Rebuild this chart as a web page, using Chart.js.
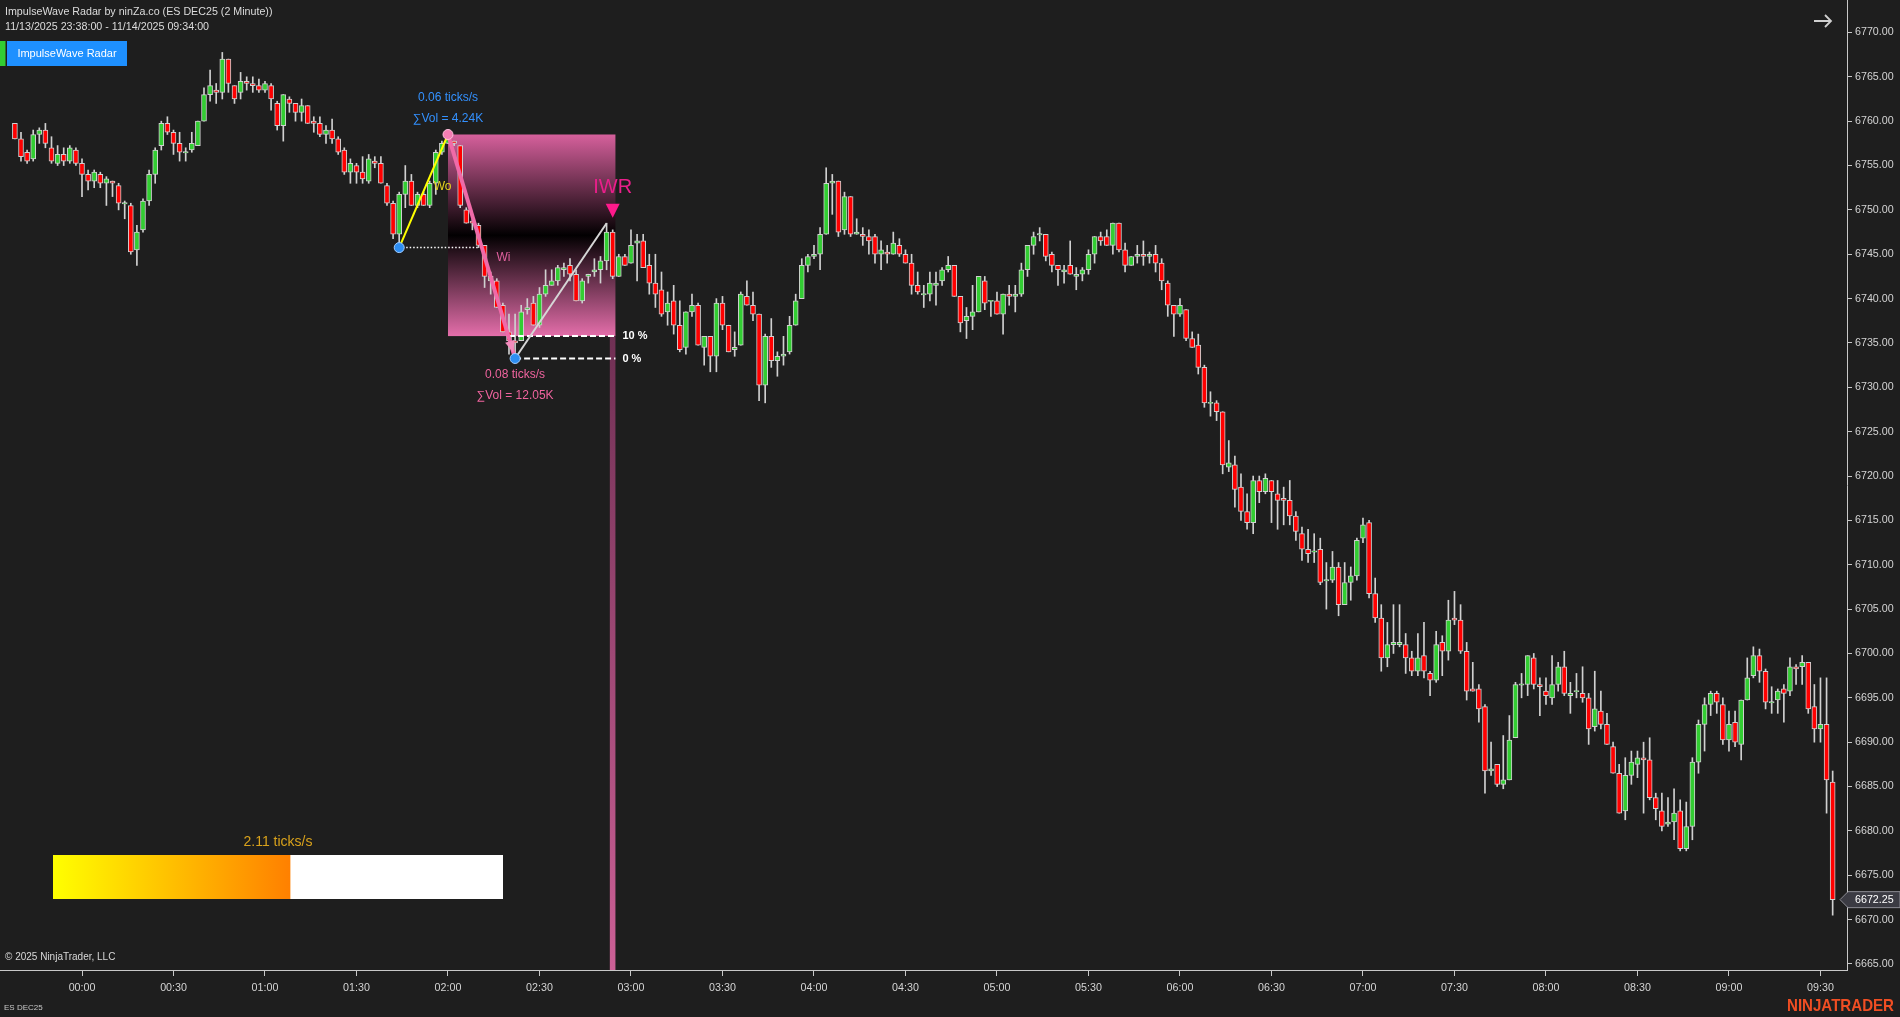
<!DOCTYPE html>
<html>
<head>
<meta charset="utf-8">
<title>ImpulseWave Radar - ES DEC25 (2 Minute)</title>
<script src="https://cdn.jsdelivr.net/npm/chart.js@4.4.1/dist/chart.umd.min.js"></script>
<style>
  html, body { margin: 0; padding: 0; background: #1e1e1e; overflow: hidden; }
  canvas { display: block; }
</style>
</head>
<body>
<canvas id="chart" width="1900" height="1017"></canvas>
<script>
// ES DEC25, 2 minute bars, 11/13 23:38 -> 11/14 09:34 (bar 0 = 23:38)
const opens = [
  6759.75, 6758.0, 6756.5, 6755.75, 6758.5, 6759.0, 6757.0, 6755.25, 6756.25, 6755.5,
  6756.75, 6755.25, 6754.0, 6753.25, 6754.0, 6753.0, 6753.25, 6752.75, 6750.75, 6750.5,
  6745.5, 6747.75, 6751.0, 6754.0, 6757.25, 6759.75, 6758.75, 6757.5, 6756.5, 6756.75,
  6757.25, 6760.0, 6763.0, 6763.5, 6763.25, 6767.0, 6764.0, 6763.25, 6764.5, 6764.25,
  6764.0, 6763.5, 6764.0, 6762.0, 6759.5, 6762.5, 6762.0, 6761.0, 6761.75, 6760.0,
  6759.75, 6758.5, 6759.0, 6758.0, 6756.75, 6754.25, 6755.0, 6754.25, 6753.25, 6755.5,
  6755.25, 6752.75, 6750.75, 6747.25, 6751.75, 6753.25, 6750.5, 6751.75, 6750.5, 6753.0,
  6756.5, 6757.5, 6757.75, 6757.25, 6750.0, 6748.75, 6748.25, 6746.0, 6742.0, 6742.0,
  6739.25, 6736.25, 6735.25, 6735.25, 6738.75, 6739.5, 6737.0, 6740.5, 6741.5, 6742.0,
  6743.25, 6743.75, 6742.75, 6739.75, 6742.5, 6743.0, 6743.25, 6744.25, 6747.5, 6742.5,
  6744.75, 6744.0, 6746.25, 6746.5, 6743.75, 6741.75, 6741.0, 6738.5, 6739.75, 6737.0,
  6734.5, 6738.5, 6739.25, 6734.5, 6735.75, 6733.5, 6739.5, 6737.0, 6734.25, 6734.75,
  6740.25, 6739.25, 6738.25, 6730.25, 6735.75, 6733.0, 6733.5, 6734.0, 6737.0, 6740.0,
  6743.75, 6744.75, 6745.0, 6747.25, 6753.0, 6753.25, 6747.75, 6751.5, 6747.25, 6747.25,
  6747.0, 6747.0, 6745.0, 6745.25, 6745.0, 6746.0, 6745.0, 6744.0, 6741.5, 6740.5,
  6740.5, 6741.5, 6742.0, 6743.25, 6743.75, 6740.25, 6737.5, 6738.0, 6738.5, 6742.0,
  6739.75, 6739.75, 6738.25, 6740.5, 6740.25, 6740.5, 6743.25, 6746.0, 6747.25, 6747.25,
  6745.0, 6743.75, 6743.0, 6743.75, 6742.5, 6742.75, 6743.25, 6745.0, 6747.0, 6747.0,
  6746.0, 6748.5, 6745.5, 6743.75, 6744.75, 6745.0, 6744.75, 6745.0, 6744.0, 6741.75,
  6739.25, 6738.25, 6738.75, 6735.5, 6734.75, 6732.25, 6728.25, 6728.25, 6727.25, 6721.0,
  6721.25, 6718.75, 6716.0, 6714.75, 6719.5, 6718.25, 6719.5, 6718.0, 6717.5, 6717.25,
  6715.5, 6713.5, 6711.75, 6711.5, 6711.75, 6708.25, 6708.25, 6709.75, 6705.5, 6708.0,
  6708.75, 6713.0, 6714.75, 6706.75, 6704.0, 6699.5, 6701.0, 6701.0, 6701.0, 6699.5,
  6698.0, 6699.75, 6697.75, 6697.0, 6701.25, 6700.25, 6704.0, 6703.75, 6700.25, 6696.0,
  6696.0, 6694.0, 6686.75, 6687.5, 6685.25, 6685.75, 6690.5, 6696.5, 6696.5, 6699.5,
  6696.5, 6695.75, 6695.0, 6696.5, 6698.5, 6695.25, 6695.75, 6695.5, 6695.0, 6691.75,
  6693.5, 6692.0, 6689.5, 6686.5, 6682.25, 6686.25, 6687.5, 6688.25, 6688.0, 6683.75,
  6682.25, 6680.75, 6681.0, 6682.25, 6678.0, 6680.5, 6687.75, 6692.0, 6694.25, 6695.5,
  6694.25, 6690.25, 6692.25, 6689.75, 6694.75, 6697.5, 6699.75, 6698.0, 6694.5, 6694.75,
  6696.0, 6695.75, 6698.5, 6698.5, 6699.0, 6694.0, 6691.5, 6692.0, 6685.5
];
const highs = [
  6759.75, 6758.75, 6756.75, 6759.0, 6759.25, 6759.75, 6758.25, 6757.25, 6757.0, 6757.25,
  6757.0, 6755.75, 6754.5, 6754.5, 6754.25, 6753.75, 6753.25, 6753.0, 6751.0, 6750.75,
  6748.25, 6751.25, 6754.5, 6757.0, 6760.0, 6760.5, 6759.0, 6758.75, 6757.0, 6758.75,
  6760.0, 6763.75, 6765.75, 6764.25, 6767.75, 6767.0, 6764.0, 6765.5, 6765.0, 6765.0,
  6764.75, 6764.5, 6764.25, 6762.25, 6763.0, 6762.75, 6762.0, 6762.5, 6761.75, 6760.5,
  6760.5, 6759.5, 6760.25, 6758.25, 6757.0, 6755.75, 6755.25, 6756.0, 6756.25, 6756.0,
  6756.0, 6753.0, 6751.0, 6752.0, 6755.0, 6754.0, 6752.0, 6752.0, 6753.25, 6756.75,
  6757.75, 6758.5, 6757.75, 6757.25, 6750.25, 6749.0, 6748.5, 6746.0, 6743.0, 6742.25,
  6739.5, 6738.25, 6738.25, 6739.25, 6740.0, 6740.25, 6741.25, 6743.25, 6743.25, 6743.75,
  6744.0, 6744.5, 6743.25, 6742.25, 6742.75, 6744.5, 6744.75, 6748.5, 6747.75, 6745.0,
  6745.0, 6747.75, 6747.25, 6747.25, 6745.0, 6745.0, 6743.0, 6740.75, 6741.5, 6739.75,
  6738.5, 6740.5, 6739.5, 6735.75, 6735.75, 6740.0, 6740.25, 6737.0, 6736.25, 6740.75,
  6742.0, 6740.75, 6738.25, 6736.0, 6737.75, 6734.0, 6735.75, 6738.0, 6740.5, 6744.5,
  6745.0, 6746.0, 6748.0, 6754.75, 6754.0, 6753.25, 6752.0, 6751.5, 6749.0, 6748.0,
  6747.75, 6747.25, 6746.5, 6746.0, 6747.5, 6746.75, 6745.5, 6745.0, 6743.0, 6741.5,
  6743.0, 6743.0, 6743.5, 6744.75, 6743.75, 6740.25, 6739.0, 6741.5, 6742.5, 6742.5,
  6739.75, 6740.75, 6740.5, 6741.5, 6741.5, 6744.0, 6746.0, 6747.5, 6748.0, 6747.25,
  6745.25, 6743.75, 6743.75, 6746.5, 6743.5, 6743.5, 6745.5, 6747.0, 6747.5, 6747.75,
  6748.5, 6748.5, 6746.25, 6744.75, 6746.0, 6746.5, 6745.25, 6746.0, 6744.5, 6742.0,
  6739.25, 6740.0, 6738.75, 6736.25, 6736.0, 6732.5, 6729.5, 6728.5, 6727.25, 6724.0,
  6722.25, 6720.25, 6718.0, 6720.0, 6720.0, 6720.25, 6719.5, 6719.5, 6718.75, 6719.5,
  6716.0, 6714.25, 6714.0, 6713.5, 6713.0, 6710.25, 6711.5, 6710.25, 6710.25, 6709.75,
  6713.0, 6715.25, 6715.0, 6708.5, 6705.5, 6703.5, 6705.5, 6705.5, 6702.25, 6700.25,
  6702.25, 6703.5, 6698.0, 6702.5, 6702.0, 6706.0, 6707.0, 6705.5, 6701.25, 6699.0,
  6696.5, 6694.25, 6690.0, 6687.5, 6690.75, 6693.0, 6696.75, 6697.75, 6699.75, 6700.0,
  6697.25, 6697.25, 6699.75, 6699.0, 6700.25, 6696.75, 6697.75, 6698.5, 6695.5, 6698.0,
  6695.75, 6693.25, 6690.0, 6687.5, 6688.25, 6689.0, 6689.0, 6690.0, 6690.5, 6684.25,
  6684.25, 6683.75, 6684.75, 6683.5, 6683.25, 6688.25, 6692.5, 6695.0, 6695.75, 6695.75,
  6695.0, 6693.5, 6693.5, 6694.75, 6699.5, 6700.75, 6700.5, 6698.25, 6696.25, 6696.0,
  6696.5, 6699.5, 6698.75, 6699.75, 6699.0, 6696.5, 6697.25, 6697.25, 6686.75
];
const lows = [
  6758.0, 6755.5, 6755.25, 6755.5, 6757.5, 6757.0, 6755.25, 6755.0, 6755.0, 6755.25,
  6755.0, 6751.5, 6752.25, 6752.5, 6752.5, 6750.5, 6751.5, 6750.0, 6749.0, 6745.0,
  6743.75, 6747.5, 6750.5, 6753.0, 6756.75, 6758.5, 6756.25, 6755.5, 6755.5, 6756.5,
  6757.25, 6760.0, 6762.25, 6762.0, 6762.5, 6763.25, 6762.0, 6762.5, 6763.5, 6763.25,
  6763.25, 6763.25, 6761.25, 6759.0, 6757.75, 6761.0, 6760.0, 6760.0, 6759.75, 6758.75,
  6758.25, 6757.5, 6757.5, 6756.25, 6754.0, 6753.0, 6753.0, 6753.0, 6753.0, 6754.75,
  6753.0, 6750.5, 6746.75, 6745.75, 6750.25, 6750.5, 6750.25, 6750.5, 6750.25, 6751.75,
  6756.25, 6757.5, 6757.25, 6750.25, 6748.5, 6747.75, 6745.75, 6741.25, 6740.5, 6739.0,
  6736.25, 6733.75, 6733.25, 6735.25, 6738.25, 6737.0, 6736.75, 6740.25, 6741.5, 6741.5,
  6742.5, 6742.0, 6739.75, 6739.5, 6741.75, 6742.5, 6741.75, 6743.25, 6742.25, 6742.5,
  6743.75, 6744.0, 6742.0, 6743.5, 6740.5, 6739.0, 6738.0, 6737.0, 6736.0, 6734.0,
  6733.75, 6738.0, 6734.75, 6732.5, 6731.75, 6731.75, 6736.5, 6734.0, 6733.5, 6734.75,
  6739.25, 6737.5, 6728.5, 6728.25, 6732.25, 6731.25, 6732.5, 6733.75, 6737.0, 6740.0,
  6743.0, 6744.5, 6743.25, 6747.25, 6749.5, 6747.0, 6747.25, 6747.0, 6747.25, 6746.0,
  6745.0, 6744.0, 6743.25, 6744.0, 6745.0, 6744.75, 6744.0, 6740.5, 6740.5, 6739.0,
  6739.75, 6739.25, 6741.5, 6743.0, 6740.25, 6736.25, 6735.5, 6736.5, 6738.5, 6738.75,
  6738.0, 6738.25, 6736.0, 6739.25, 6738.5, 6740.25, 6742.5, 6745.0, 6746.5, 6744.25,
  6743.0, 6741.5, 6741.75, 6742.75, 6741.0, 6742.0, 6742.75, 6744.0, 6746.0, 6746.0,
  6745.0, 6745.25, 6743.0, 6743.75, 6744.0, 6743.75, 6744.0, 6743.0, 6741.0, 6738.0,
  6735.75, 6738.0, 6735.25, 6734.5, 6731.5, 6727.75, 6726.75, 6726.25, 6720.25, 6720.5,
  6716.5, 6715.0, 6714.0, 6713.5, 6717.0, 6718.0, 6714.75, 6714.0, 6714.5, 6714.5,
  6712.75, 6710.5, 6710.25, 6710.25, 6707.75, 6705.0, 6708.0, 6704.25, 6705.5, 6706.0,
  6708.25, 6712.5, 6706.25, 6703.5, 6698.0, 6698.5, 6700.0, 6700.75, 6697.75, 6697.5,
  6697.5, 6697.25, 6695.25, 6696.75, 6697.5, 6699.25, 6703.25, 6700.0, 6694.75, 6695.75,
  6692.25, 6684.25, 6686.25, 6685.0, 6684.75, 6685.75, 6690.5, 6695.0, 6695.25, 6696.0,
  6693.0, 6694.25, 6694.25, 6695.75, 6695.25, 6693.25, 6695.0, 6694.5, 6689.75, 6691.25,
  6691.5, 6689.75, 6686.5, 6682.0, 6681.25, 6685.25, 6686.0, 6682.0, 6683.5, 6681.25,
  6680.0, 6680.5, 6679.0, 6677.75, 6677.75, 6679.0, 6686.5, 6689.0, 6693.0, 6693.25,
  6689.75, 6689.0, 6689.5, 6688.0, 6694.75, 6697.25, 6696.75, 6693.75, 6693.25, 6693.25,
  6692.25, 6695.25, 6696.5, 6696.5, 6693.25, 6690.0, 6690.0, 6682.0, 6670.5
];
const closes = [
  6758.0, 6756.0, 6755.5, 6758.5, 6759.0, 6757.5, 6755.5, 6756.25, 6755.5, 6757.0,
  6755.25, 6754.0, 6753.25, 6754.25, 6753.0, 6753.5, 6753.0, 6750.75, 6750.75, 6745.25,
  6747.5, 6751.0, 6754.0, 6756.75, 6759.75, 6758.75, 6757.5, 6756.5, 6756.5, 6757.5,
  6760.0, 6763.0, 6764.0, 6763.25, 6767.0, 6764.25, 6762.5, 6764.5, 6764.25, 6764.0,
  6763.5, 6764.25, 6762.5, 6759.5, 6763.0, 6762.0, 6761.0, 6761.75, 6759.75, 6759.75,
  6758.5, 6759.0, 6758.0, 6756.5, 6754.25, 6755.25, 6754.25, 6753.5, 6755.75, 6755.25,
  6753.0, 6750.75, 6747.25, 6751.75, 6753.25, 6750.5, 6751.75, 6750.5, 6753.0, 6756.5,
  6757.5, 6758.0, 6757.5, 6750.5, 6748.5, 6748.5, 6746.0, 6742.5, 6742.5, 6739.0,
  6736.25, 6735.25, 6735.0, 6738.5, 6739.0, 6737.0, 6740.5, 6741.5, 6742.0, 6743.5,
  6743.5, 6742.75, 6739.75, 6742.0, 6742.75, 6743.25, 6744.25, 6747.5, 6742.5, 6744.75,
  6743.75, 6746.0, 6746.5, 6743.5, 6741.75, 6740.5, 6738.25, 6739.5, 6737.0, 6734.25,
  6738.5, 6739.25, 6734.75, 6735.75, 6733.5, 6739.5, 6737.0, 6734.0, 6734.5, 6740.5,
  6739.25, 6738.25, 6730.25, 6735.75, 6733.0, 6733.5, 6733.75, 6737.0, 6739.75, 6743.75,
  6744.75, 6745.0, 6747.25, 6753.0, 6753.25, 6747.5, 6751.5, 6747.25, 6747.5, 6747.0,
  6746.5, 6745.0, 6745.5, 6745.0, 6746.25, 6745.0, 6744.0, 6741.5, 6740.75, 6740.5,
  6741.75, 6741.75, 6743.25, 6743.75, 6740.25, 6737.25, 6738.0, 6738.5, 6742.5, 6739.5,
  6739.75, 6738.25, 6740.5, 6740.25, 6740.5, 6743.25, 6746.0, 6747.0, 6747.25, 6744.75,
  6743.75, 6743.25, 6743.25, 6742.75, 6742.75, 6743.25, 6745.0, 6747.0, 6746.5, 6746.0,
  6748.5, 6745.5, 6743.75, 6744.75, 6745.0, 6744.75, 6745.0, 6744.0, 6742.0, 6739.25,
  6738.25, 6739.25, 6735.5, 6734.5, 6732.25, 6728.25, 6728.25, 6727.25, 6721.25, 6721.5,
  6718.5, 6716.0, 6714.75, 6719.5, 6718.25, 6719.75, 6718.25, 6717.25, 6717.25, 6715.5,
  6713.75, 6711.75, 6711.25, 6711.5, 6708.0, 6708.25, 6709.75, 6705.5, 6708.0, 6708.75,
  6712.75, 6714.5, 6706.75, 6704.0, 6699.5, 6701.0, 6701.25, 6701.25, 6699.5, 6698.0,
  6699.5, 6698.0, 6697.0, 6701.0, 6700.25, 6703.75, 6703.75, 6700.25, 6695.75, 6695.75,
  6693.75, 6686.75, 6687.0, 6685.25, 6685.75, 6690.25, 6696.5, 6696.5, 6699.75, 6696.5,
  6696.25, 6695.25, 6696.5, 6698.5, 6695.5, 6695.5, 6695.75, 6695.0, 6691.5, 6693.75,
  6692.0, 6689.75, 6686.5, 6682.0, 6686.25, 6687.75, 6688.25, 6688.0, 6683.75, 6682.5,
  6680.5, 6681.0, 6682.0, 6678.0, 6680.5, 6687.75, 6692.0, 6694.25, 6695.5, 6694.5,
  6690.25, 6692.0, 6690.0, 6694.75, 6697.25, 6699.75, 6698.0, 6694.5, 6694.5, 6695.75,
  6695.5, 6698.5, 6698.25, 6699.0, 6693.75, 6691.5, 6692.0, 6685.75, 6672.25
];

// time axis: a label every 30 min, 00:00 is bar 11
const timeLabels = ['00:00', '00:30', '01:00', '01:30', '02:00', '02:30', '03:00', '03:30', '04:00', '04:30',
  '05:00', '05:30', '06:00', '06:30', '07:00', '07:30', '08:00', '08:30', '09:00', '09:30'];
const firstLabelBar = 11;
const barsPerLabel = 15;

const priceTicks = [6665, 6670, 6675, 6680, 6685, 6690, 6695, 6700, 6705, 6710, 6715, 6720,
  6725, 6730, 6735, 6740, 6745, 6750, 6755, 6760, 6765, 6770];

// ImpulseWave pattern: origin low, wave top, impulse low, retrace end
const waveIdx = [63, 71, 82, 97];
const wavePrice = [6745.75, 6758.5, 6733.25, 6748.5];
const signalIdx = 98;
const levelPct = [10, 0];
const waveSpeed = ['0.06 ticks/s', '0.08 ticks/s'];
const waveVol = ['∑Vol = 4.24K', '∑Vol = 12.05K'];
const gaugeValue = 2.11;
const gaugeMax = 4;

const BG = '#1e1e1e';
const UP = '#32cd32';
const DOWN = '#ff0000';
const OUTLINE = '#d0d0d0';
const AXIS = '#c8c8c8';
const TEXT = '#d4d4d4';
const FONT = '"Liberation Sans", Arial, sans-serif';

function levelPrice(pct) {
  return wavePrice[2] + (wavePrice[1] - wavePrice[2]) * pct / 100;
}

// first bar after the top that trades back to a given price
function firstTouch(price) {
  for (let i = waveIdx[1] + 1; i < lows.length; i++) {
    if (lows[i] <= price) return i;
  }
  return waveIdx[2];
}

function pt(i, p) { return { x: i, y: p }; }

const wicks = opens.map((o, i) => pt(i, [Math.min(lows[i], o, closes[i]), Math.max(highs[i], o, closes[i])]));
const bodies = opens.map((o, i) => {
  const c = closes[i];
  return pt(i, Math.abs(c - o) < 0.2 ? [o - 0.07, o + 0.07] : [o, c]);
});
const bodyColors = opens.map((o, i) => closes[i] >= o ? UP : DOWN);

const lvl10 = levelPrice(levelPct[0]);
const lvl0 = levelPrice(levelPct[1]);
const boxEnd = signalIdx + 0.45;

function label(ctx, str, x, y, size, color, align, weight) {
  ctx.font = (weight || '') + ' ' + size + 'px ' + FONT;
  ctx.fillStyle = color;
  ctx.textAlign = align || 'left';
  ctx.textBaseline = 'middle';
  ctx.fillText(str, x, y);
}

const overlay = {
  id: 'overlay',
  beforeDraw(chart) {
    const ctx = chart.ctx;
    ctx.save();
    ctx.fillStyle = BG;
    ctx.fillRect(0, 0, chart.width, chart.height);
    ctx.restore();
  },
  beforeDatasetsDraw(chart) {
    const { ctx, chartArea, scales: { x, y } } = chart;
    const left = x.getPixelForValue(waveIdx[1]);
    const right = x.getPixelForValue(boxEnd);
    const top = y.getPixelForValue(wavePrice[1]);
    const bottom = y.getPixelForValue(lvl10);
    ctx.save();
    const g = ctx.createLinearGradient(0, top, 0, bottom);
    g.addColorStop(0, 'rgb(214,96,156)');
    g.addColorStop(0.5, 'rgb(2,0,1)');
    g.addColorStop(1, 'rgb(228,110,170)');
    ctx.fillStyle = g;
    ctx.fillRect(left, top, right - left, bottom - top);
    const g2 = ctx.createLinearGradient(0, bottom, 0, chartArea.bottom);
    g2.addColorStop(0, 'rgb(112,48,84)');
    g2.addColorStop(1, 'rgb(204,96,150)');
    ctx.fillStyle = g2;
    ctx.fillRect(right - 5.6, bottom, 5.6, chartArea.bottom - bottom);
    ctx.restore();
  },
  afterDatasetsDraw(chart) {
    const { ctx, scales: { x, y } } = chart;
    const px = waveIdx.map(i => x.getPixelForValue(i));
    const py = wavePrice.map(p => y.getPixelForValue(p));
    ctx.save();

    // arrow head at the end of the impulse leg
    const dx = px[2] - px[1], dy = py[2] - py[1];
    const len = Math.hypot(dx, dy);
    const ux = dx / len, uy = dy / len;
    const tx = px[2] - ux * 6, ty = py[2] - uy * 6;
    const bx = tx - ux * 12, by = ty - uy * 12;
    ctx.fillStyle = '#f28cbc';
    ctx.beginPath();
    ctx.moveTo(tx, ty);
    ctx.lineTo(bx - uy * 5, by + ux * 5);
    ctx.lineTo(bx + uy * 5, by - ux * 5);
    ctx.closePath();
    ctx.fill();

    label(ctx, 'Wo', (px[0] + px[1]) / 2 + 19, (py[0] + py[1]) / 2 - 4, 12, '#e6d21e', 'center');
    label(ctx, 'Wi', (px[1] + px[2]) / 2 + 22, (py[1] + py[2]) / 2 + 11, 12, '#e0609e', 'center');

    label(ctx, waveSpeed[0], px[1], py[1] - 37, 12, '#3391ff', 'center');
    label(ctx, waveVol[0], px[1], py[1] - 15.5, 12, '#3391ff', 'center');
    label(ctx, waveSpeed[1], px[2], py[2] + 16, 12, '#f0649f', 'center');
    label(ctx, waveVol[1], px[2], py[2] + 37, 12, '#f0649f', 'center');

    const right = x.getPixelForValue(boxEnd);
    label(ctx, levelPct[0] + ' %', right + 7, y.getPixelForValue(lvl10), 11, '#ffffff', 'left', 'bold');
    label(ctx, levelPct[1] + ' %', right + 7, y.getPixelForValue(lvl0), 11, '#ffffff', 'left', 'bold');

    // signal marker
    const sx = x.getPixelForValue(signalIdx);
    const sy = y.getPixelForValue(highs[signalIdx]);
    label(ctx, 'IWR', sx, sy - 42, 20, '#ea1f8b', 'center');
    ctx.fillStyle = '#ff1a8c';
    ctx.beginPath();
    ctx.moveTo(sx - 7, sy - 26);
    ctx.lineTo(sx + 7, sy - 26);
    ctx.lineTo(sx, sy - 12);
    ctx.closePath();
    ctx.fill();
    ctx.restore();
  },
  afterDraw(chart) {
    const { ctx, scales: { y } } = chart;
    ctx.save();

    label(ctx, 'ImpulseWave Radar by ninZa.co (ES DEC25 (2 Minute))', 5, 12, 10.7, '#dcdcdc');
    label(ctx, '11/13/2025 23:38:00 - 11/14/2025 09:34:00', 5, 27.5, 10.7, '#dcdcdc');

    ctx.fillStyle = '#32cd32';
    ctx.fillRect(0, 41, 5.5, 25);
    ctx.fillStyle = '#1e90ff';
    ctx.fillRect(7, 41, 120, 25);
    label(ctx, 'ImpulseWave Radar', 67, 54, 11, '#ffffff', 'center');

    // arrow top right
    ctx.strokeStyle = '#d0d0d0';
    ctx.lineWidth = 1.8;
    ctx.beginPath();
    ctx.moveTo(1814, 21); ctx.lineTo(1831, 21);
    ctx.moveTo(1825, 15); ctx.lineTo(1831, 21); ctx.lineTo(1825, 27);
    ctx.stroke();

    // speed gauge
    const gx = 53, gy = 855, gw = 450, gh = 44;
    const fw = gw * gaugeValue / gaugeMax;
    ctx.fillStyle = '#ffffff';
    ctx.fillRect(gx, gy, gw, gh);
    const gg = ctx.createLinearGradient(gx, 0, gx + fw, 0);
    gg.addColorStop(0, '#ffff00');
    gg.addColorStop(1, '#ff8000');
    ctx.fillStyle = gg;
    ctx.fillRect(gx, gy, fw, gh);
    label(ctx, gaugeValue.toFixed(2) + ' ticks/s', gx + gw / 2, gy - 13, 14, '#d9a21b', 'center');

    label(ctx, '© 2025 NinjaTrader, LLC', 5, 957, 10, '#d8d8d8');
    label(ctx, 'ES DEC25', 4, 1008, 8, '#c8c8c8');

    ctx.font = 'bold 17px "Liberation Sans Narrow", ' + FONT;
    ctx.fillStyle = '#f04e23';
    ctx.textAlign = 'left';
    ctx.textBaseline = 'middle';
    ctx.fillText('NINJATRADER', 1787, 1006, 107);

    // last price marker
    const last = closes[closes.length - 1];
    const yc = y.getPixelForValue(last);
    ctx.beginPath();
    ctx.moveTo(1840, yc);
    ctx.lineTo(1848, yc - 8);
    ctx.lineTo(1900, yc - 8);
    ctx.lineTo(1900, yc + 8);
    ctx.lineTo(1848, yc + 8);
    ctx.closePath();
    ctx.fillStyle = '#3b3b43';
    ctx.fill();
    ctx.strokeStyle = '#8c8c94';
    ctx.lineWidth = 1;
    ctx.stroke();
    label(ctx, last.toFixed(2), 1855, yc + 0.5, 10.7, '#ffffff');
    ctx.restore();
  }
};

new Chart(document.getElementById('chart'), {
  type: 'bar',
  data: {
    datasets: [
      {
        type: 'line', label: 'pivots', order: 0,
        data: [0, 1, 2].map(k => pt(waveIdx[k], wavePrice[k])),
        showLine: false, pointRadius: 5,
        pointBackgroundColor: ['#2e8ef2', '#f47db3', '#2e8ef2'],
        pointBorderColor: ['#9fcbff', '#ffc0dc', '#9fcbff'],
        pointBorderWidth: 1
      },
      {
        type: 'line', label: 'Wo', order: 1,
        data: [pt(waveIdx[0], wavePrice[0]), pt(waveIdx[1], wavePrice[1])],
        borderColor: '#ffff00', borderWidth: 2, pointRadius: 0
      },
      {
        type: 'line', label: 'Wi', order: 1,
        data: [pt(waveIdx[1], wavePrice[1]), pt(waveIdx[2], wavePrice[2])],
        borderColor: '#f06aa8', borderWidth: 4, pointRadius: 0
      },
      {
        type: 'line', label: 'retrace', order: 1,
        data: [pt(waveIdx[2], wavePrice[2]), pt(waveIdx[3], wavePrice[3])],
        borderColor: '#d6d6d6', borderWidth: 2, pointRadius: 0
      },
      {
        type: 'line', label: 'origin', order: 2,
        data: [pt(waveIdx[0], wavePrice[0]), pt(firstTouch(wavePrice[0]), wavePrice[0])],
        borderColor: '#ffffff', borderWidth: 1.5, borderDash: [1.5, 2], pointRadius: 0
      },
      {
        type: 'line', label: '10 %', order: 2,
        data: [pt(firstTouch(lvl10), lvl10), pt(boxEnd, lvl10)],
        borderColor: '#ffffff', borderWidth: 2, borderDash: [6, 3], pointRadius: 0
      },
      {
        type: 'line', label: '0 %', order: 2,
        data: [pt(waveIdx[2], lvl0), pt(boxEnd, lvl0)],
        borderColor: '#ffffff', borderWidth: 2, borderDash: [6, 3], pointRadius: 0
      },
      {
        label: 'bodies', order: 9, data: bodies, grouped: false,
        barThickness: 5, backgroundColor: bodyColors,
        borderColor: OUTLINE, borderWidth: 1, borderSkipped: false
      },
      {
        label: 'wicks', order: 10, data: wicks, grouped: false,
        barThickness: 1, backgroundColor: OUTLINE, borderWidth: 0
      }
    ]
  },
  options: {
    responsive: false,
    animation: false,
    devicePixelRatio: 1,
    events: [],
    layout: { padding: 0, autoPadding: false },
    plugins: { legend: { display: false }, tooltip: { enabled: false } },
    scales: {
      x: {
        type: 'linear', min: -2.443, max: 300.35, offset: false,
        afterFit: s => { s.height = 47; s.paddingLeft = 0; s.paddingRight = 0; },
        afterBuildTicks: s => {
          s.ticks = timeLabels.map((_, k) => ({ value: firstLabelBar + k * barsPerLabel }));
        },
        ticks: {
          callback: (v, k) => timeLabels[k],
          autoSkip: false, maxRotation: 0, padding: 6,
          color: TEXT, font: { family: FONT, size: 10.7 }
        },
        grid: { drawOnChartArea: false, drawTicks: true, tickLength: 6, color: AXIS, offset: false },
        border: { display: true, color: AXIS, width: 1 }
      },
      y: {
        type: 'linear', position: 'right', min: 6664.32, max: 6773.66, beginAtZero: false,
        afterFit: s => { s.width = 53; s.paddingTop = 0; s.paddingBottom = 0; },
        afterBuildTicks: s => { s.ticks = priceTicks.map(v => ({ value: v })); },
        ticks: {
          callback: v => v.toFixed(2), padding: 3,
          color: TEXT, font: { family: FONT, size: 10.7 }
        },
        grid: { drawOnChartArea: false, drawTicks: true, tickLength: 5, color: AXIS },
        border: { display: true, color: AXIS, width: 1 }
      }
    }
  },
  plugins: [overlay]
});
</script>
</body>
</html>
